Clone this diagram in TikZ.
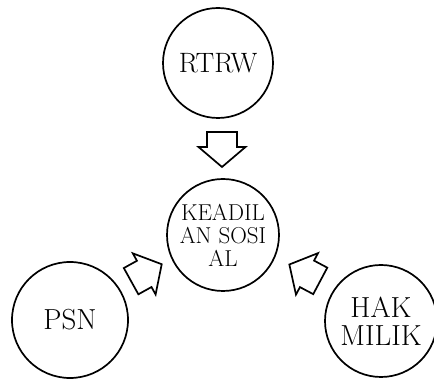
\documentclass[tikz,border=0pt]{standalone}
\usepackage{fontspec}
\begin{document}
\begin{tikzpicture}[x=1pt,y=1pt,
  circ/.style={draw, circle, line width=1.7pt, inner sep=0pt, align=center},
  arrowline/.style={draw, line width=1.7pt, line join=miter, fill=white},
  blockarrow/.pic={\path[arrowline] (-17.5,-15) -- (-2.5,-15) -- (-2.5,-23.5) -- (17.5,0) -- (-2.5,23.5) -- (-2.5,15) -- (-17.5,15) -- cycle;}
]
\useasboundingbox (0,0) rectangle (434,382);
\node[circ, minimum size=110pt, font=\fontsize{28}{30}\selectfont] (rtrw) at (218,319) {RTRW};
\node[circ, minimum size=112pt, font=\fontsize{23}{23}\selectfont] (kead) at (223,147) {KEADIL\\AN SOSI\\AL};
\node[circ, minimum size=116pt, font=\fontsize{29}{30}\selectfont] (psn) at (70,62) {PSN};
\node[circ, minimum size=112pt, font=\fontsize{29}{28}\selectfont] (hak) at (381,61) {HAK\\MILIK};
\pic[rotate=-90] at (222,232.5) {blockarrow};
\pic[rotate=29] at (146.4,109.3) {blockarrow};
\pic[rotate=152] at (304.8,109.3) {blockarrow};
\end{tikzpicture}
\end{document}
